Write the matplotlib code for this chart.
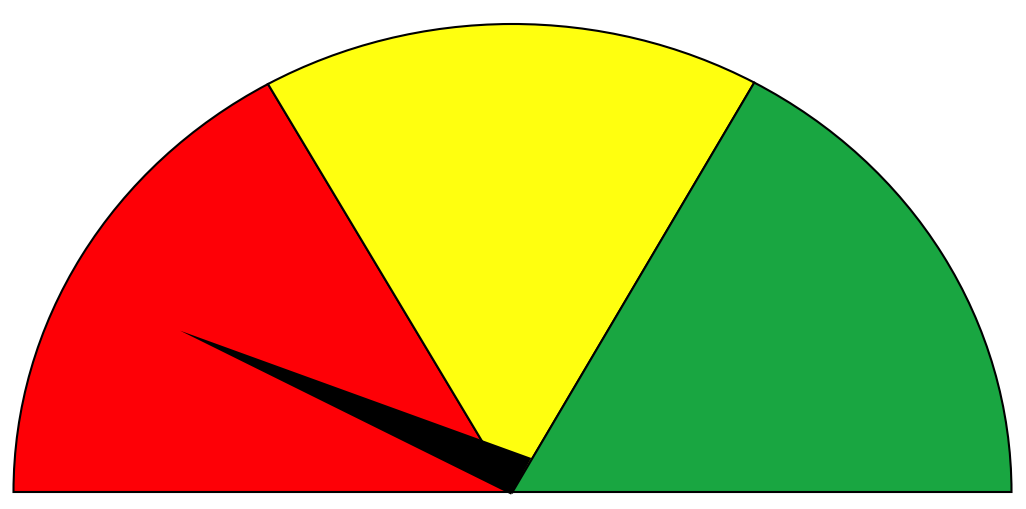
import numpy as np
import matplotlib
matplotlib.use("Agg")
import matplotlib.pyplot as plt
from matplotlib.patches import Wedge, Polygon

# Gauge data
gauge_min = 0
gauge_max = 100
band_edges = [0, 33.7, 66.1, 100]
band_colors = ["#fe0006", "#ffff0f", "#19a641"]
needle_value = 15.2

# Geometry/style
needle_length = 0.75
needle_width = 0.088

fig = plt.figure(figsize=(10.26, 5.10), dpi=100)
ax = fig.add_axes([0, 0, 1, 1])
ax.set_xlim(-512.5 / 499, 513.5 / 499)
ax.set_ylim((493 - 510) / 468, 493 / 468)
ax.axis("off")


def val2deg(v):
    return 180.0 - 180.0 * (v - gauge_min) / (gauge_max - gauge_min)


for lo, hi, col in zip(band_edges[:-1], band_edges[1:], band_colors):
    w = Wedge((0, 0), 1.0, val2deg(hi), val2deg(lo), facecolor=col,
              edgecolor="black", linewidth=1.5, joinstyle="miter")
    ax.add_patch(w)

th = np.deg2rad(val2deg(needle_value))
d = np.array([np.cos(th), np.sin(th)])
perp = np.array([np.sin(th), -np.cos(th)])
tip = needle_length * d
a = -0.07 * needle_width * perp
b = 0.93 * needle_width * perp
ax.add_patch(Polygon([a, b, tip], closed=True, facecolor="black",
                     edgecolor="none", zorder=5))

fig.savefig("out.png", dpi=100, facecolor="white")
